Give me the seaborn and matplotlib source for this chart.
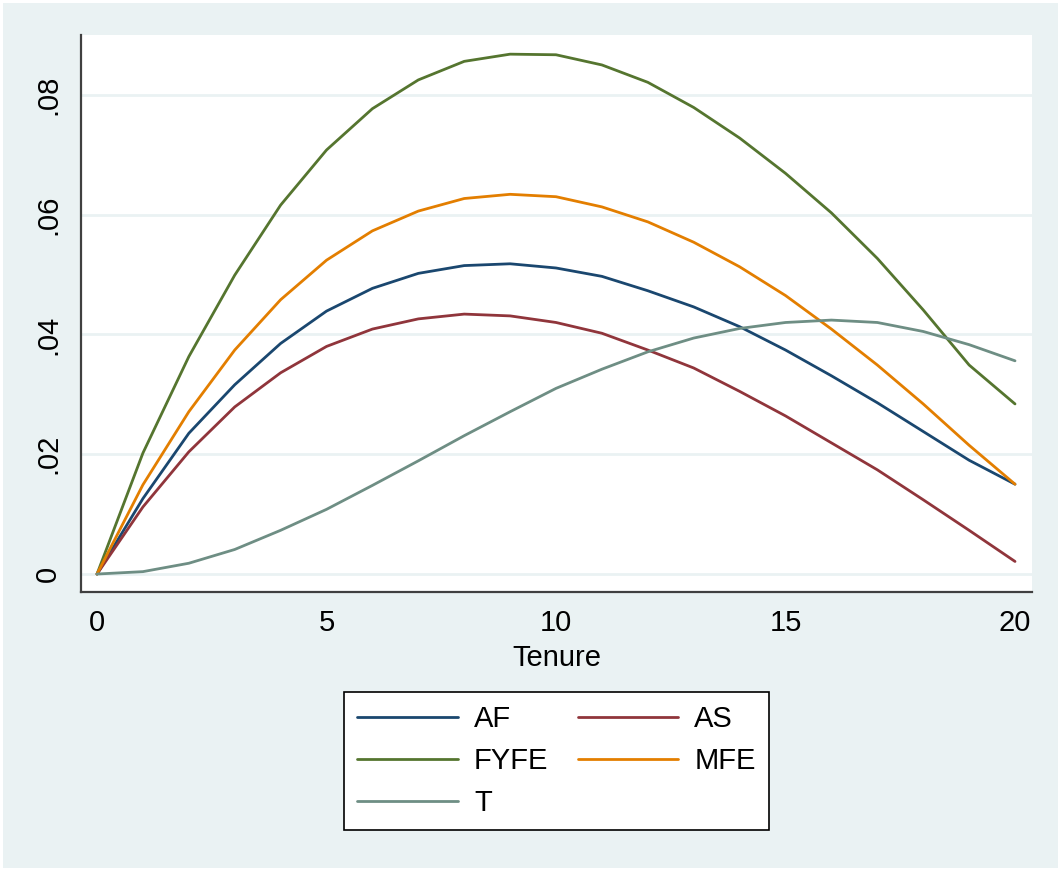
import numpy as np
import pandas as pd
import seaborn as sns
import matplotlib
matplotlib.use("Agg")
import matplotlib.pyplot as plt
from matplotlib.patches import Rectangle
from matplotlib.lines import Line2D

tenure = list(range(21))
AF = [0, 0.0126, 0.0235, 0.0316, 0.0385, 0.0439, 0.0477, 0.0502, 0.0515, 0.0518, 0.0511,
      0.0497, 0.0473, 0.0446, 0.0413, 0.0374, 0.0331, 0.0286, 0.0238, 0.0190, 0.0150]
AS = [0, 0.0112, 0.0204, 0.0279, 0.0336, 0.0380, 0.0409, 0.0426, 0.0434, 0.0431, 0.0420,
      0.0402, 0.0374, 0.0344, 0.0305, 0.0264, 0.0219, 0.0174, 0.0124, 0.0073, 0.0021]
FYFE = [0, 0.0202, 0.0363, 0.0499, 0.0616, 0.0708, 0.0777, 0.0825, 0.0856, 0.0868, 0.0867,
        0.0850, 0.0821, 0.0779, 0.0728, 0.0669, 0.0603, 0.0527, 0.0441, 0.0349, 0.0284]
MFE = [0, 0.0149, 0.0271, 0.0374, 0.0458, 0.0524, 0.0573, 0.0606, 0.0627, 0.0634, 0.0630,
       0.0613, 0.0588, 0.0554, 0.0513, 0.0465, 0.0409, 0.0349, 0.0284, 0.0215, 0.0150]
T = [0, 0.0004, 0.0018, 0.0041, 0.0073, 0.0108, 0.0148, 0.0189, 0.0231, 0.0271, 0.0310,
     0.0342, 0.0371, 0.0394, 0.0410, 0.0420, 0.0424, 0.0420, 0.0405, 0.0383, 0.0356]

series_names = ["AF", "AS", "FYFE", "MFE", "T"]
series_vals = [AF, AS, FYFE, MFE, T]
colors = ["#1a476f", "#90353b", "#55752f", "#e37e00", "#6e8e84"]
yticks = [0, 0.02, 0.04, 0.06, 0.08]
ytick_labels = ["0", ".02", ".04", ".06", ".08"]
xticks = [0, 5, 10, 15, 20]

df = pd.concat([pd.DataFrame({"Tenure": tenure, "value": v, "series": n})
                for n, v in zip(series_names, series_vals)], ignore_index=True)

sns.set_style("white")
plt.rcParams['font.family'] = ['Liberation Sans', 'DejaVu Sans']
plt.rcParams['text.color'] = 'black'
plt.rcParams['axes.labelcolor'] = 'black'

FS = 21
bg = "#eaf2f3"
W, H = 1061, 871
fig = plt.figure(figsize=(W / 100, H / 100), dpi=100, facecolor="white")
fig.patches.append(Rectangle((3 / W, 3 / H), 1 - 6 / W, 1 - 6 / H, transform=fig.transFigure,
                             facecolor=bg, edgecolor="none", zorder=-10))
ax = fig.add_axes([81 / W, 1 - 592 / H, (1032 - 81) / W, (592 - 35) / H])
ax.set_facecolor("white")

sns.lineplot(data=df, x="Tenure", y="value", hue="series", palette=colors,
             hue_order=series_names, ax=ax, linewidth=2.0, legend=False)

ax.set_xlim(-0.349, 20.37)
ax.set_ylim(-0.0030, 0.0900)
ax.set_yticks(yticks)
ax.set_yticklabels(ytick_labels, rotation=90, va="center", fontsize=FS)
ax.set_xticks(xticks)
ax.set_xticklabels([str(x) for x in xticks], fontsize=FS)
ax.yaxis.grid(True, color=bg, linewidth=2.0)
ax.xaxis.grid(False)
ax.set_axisbelow(True)
for s in ["top", "right"]:
    ax.spines[s].set_visible(False)
for s in ["left", "bottom"]:
    ax.spines[s].set_color("#404040")
    ax.spines[s].set_linewidth(1.6)
ax.tick_params(axis="both", which="major", direction="out", length=7.5, width=1.4,
               color="#404040", labelcolor="black")
ax.tick_params(axis="x", pad=5)
ax.tick_params(axis="y", pad=6)
ax.set_xlabel("Tenure", fontsize=FS, labelpad=5)
ax.set_ylabel("")

handles = [Line2D([], [], color=c, linewidth=2.0) for c in colors]
order = [0, 2, 4, 1, 3]
leg = fig.legend([handles[i] for i in order], [series_names[i] for i in order],
                 ncol=2, loc="center", bbox_to_anchor=((346 + 767) / 2 / W, 1 - 761 / H),
                 fontsize=FS, frameon=True, fancybox=False, framealpha=1.0,
                 handlelength=3.45, handletextpad=0.55, columnspacing=1.0,
                 labelspacing=0.47, borderpad=0.45, borderaxespad=0, labelcolor="black")
leg.get_frame().set_edgecolor("black")
leg.get_frame().set_linewidth(1.2)
leg.get_frame().set_facecolor("white")

fig.savefig("out.png", dpi=100, facecolor="white")
